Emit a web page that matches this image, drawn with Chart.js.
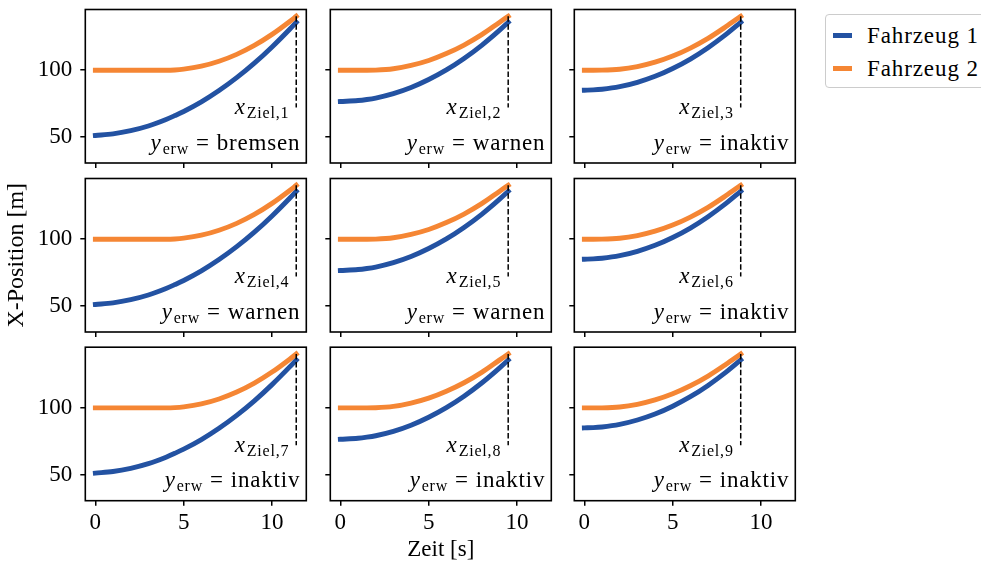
<!DOCTYPE html>
<html>
<head>
<meta charset="utf-8">
<script src="https://cdn.jsdelivr.net/npm/chart.js@4.4.1/dist/chart.umd.min.js"></script>
<style>
  html, body { margin: 0; padding: 0; background: #fff; width: 981px; height: 569px; overflow: hidden; position: relative; }
  canvas { position: absolute; }
  #legend { position: absolute; left: 825px; top: 14px; width: 200px; height: 74px; box-sizing: border-box;
            border: 1px solid #cccccc; border-radius: 4px; background: #fff;
            font-family: 'Liberation Serif', serif; font-size: 23px; color: #000; letter-spacing: 0.9px; }
  .sw { position: absolute; left: 7px; width: 19px; height: 5px; }
  .lab { position: absolute; left: 41px; white-space: nowrap; line-height: 26px; }
</style>
</head>
<body>
<div id="legend"></div>
<script>
// Time samples [s] and positions [m] for the three scenarios (one per column)
const TIME_A = [0, 1, 2, 3, 4, 4.5, 5, 6, 7, 8, 9, 10, 11, 11.37];
const FZ1_A  = [51, 52.2, 54.6, 58.1, 63.0, 65.9, 69.0, 76.2, 84.7, 94.4, 105.3, 117.5, 130.8, 136.0];
const FZ2_A  = [100, 100, 100, 100, 100, 100.2, 100.8, 103.0, 106.7, 111.9, 118.6, 126.9, 136.6, 140.5];

const TIME_B = [0, 1, 1.5, 2, 3, 4, 5, 6, 7, 8, 9, 9.5];
const FZ1_B  = [76.5, 77.2, 78.0, 79.1, 82.4, 87.0, 93.0, 100.2, 108.8, 118.7, 129.9, 136.0];
const FZ2_B  = [100, 100, 100, 100.1, 101.1, 103.6, 107.3, 112.5, 118.9, 126.7, 135.9, 140.5];

const TIME_C = [0, 0.5, 1, 2, 3, 4, 5, 6, 7, 8, 8.85];
const FZ1_C  = [85, 85.2, 85.7, 87.6, 90.9, 95.4, 101.3, 108.4, 116.9, 126.7, 136.0];
const FZ2_C  = [100, 100, 100.05, 100.7, 102.7, 106.0, 110.6, 116.6, 123.9, 132.6, 140.5];

// Target marker: time of arrival per column, dashed segment from top to bottom value
const T_ZIEL      = [11.37, 9.5, 8.85];
const ZIEL_TOP    = 140.5;
const ZIEL_BOTTOM = 72;

// Warning state per panel (row-major)
const MODES = ['bremsen', 'warnen', 'inaktiv',
               'warnen',  'warnen', 'inaktiv',
               'inaktiv', 'inaktiv', 'inaktiv'];

const SERIES = ['Fahrzeug 1', 'Fahrzeug 2'];
const X_TICKS = [0, 5, 10];
const Y_TICKS = [50, 100];
const X_TITLE = 'Zeit [s]';
const Y_TITLE = 'X-Position [m]';

// ---- styling / layout ----
const COLORS = ['#2352a2', '#f58634'];
const FONT = 'Liberation Serif';
const FS = 23;
const X_MIN = -0.57, X_MAX = 11.94;
const Y_MIN = 30.3, Y_MAX = 145.6;

const BOX_LEFT = [85.3, 330.3, 574.3];
const BOX_TOP  = [9.5, 178.5, 347.2];
const BOX_W = 221, BOX_H = 153.5;
const CANVAS_W = 316, CANVAS_H = 226;
const Y_AXIS_W = 83.3;

const columns = [
  { t: TIME_A, f1: FZ1_A, f2: FZ2_A },
  { t: TIME_B, f1: FZ1_B, f2: FZ2_B },
  { t: TIME_C, f1: FZ1_C, f2: FZ2_C }
];

const zip = (t, v) => t.map((x, i) => ({ x, y: v[i] }));

// draws a run of text pieces right-aligned at (right, baseline)
function drawPieces(ctx, pieces, right, baseline) {
  let total = 0;
  ctx.letterSpacing = '0.8px';
  pieces.forEach(p => { ctx.font = p.font; p.w = ctx.measureText(p.text).width; total += p.w + (p.gap || 0); });
  let x = right - total;
  ctx.fillStyle = '#000';
  ctx.textAlign = 'left';
  ctx.textBaseline = 'alphabetic';
  pieces.forEach(p => {
    ctx.font = p.font;
    ctx.fillText(p.text, x, baseline + (p.dy || 0));
    x += p.w + (p.gap || 0);
  });
  ctx.letterSpacing = '0px';
}

const MAIN_IT = `italic ${FS}px "${FONT}"`;
const MAIN_RM = `${FS}px "${FONT}"`;
const SUB_RM  = `${Math.round(FS * 0.7)}px "${FONT}"`;

// axes frame plus the two math-style annotations of each panel
const panelDecor = {
  id: 'panelDecor',
  afterDatasetsDraw(chart, args, opts) {
    const { ctx, chartArea: a, scales } = chart;
    ctx.save();
    ctx.lineWidth = 1.6;
    ctx.strokeStyle = '#000';
    ctx.strokeRect(a.left, a.top, a.right - a.left, a.bottom - a.top);

    const xr = scales.x.getPixelForValue(opts.tZiel) - 7;
    const yb = scales.y.getPixelForValue(ZIEL_BOTTOM) + 6.5;
    drawPieces(ctx, [
      { text: 'x', font: MAIN_IT, gap: 1 },
      { text: 'Ziel,' + opts.n, font: SUB_RM, dy: 4 }
    ], xr, yb);

    drawPieces(ctx, [
      { text: 'y', font: MAIN_IT, gap: 1 },
      { text: 'erw', font: SUB_RM, dy: 4, gap: 7 },
      { text: '=', font: MAIN_RM, gap: 7 },
      { text: opts.mode, font: MAIN_RM }
    ], a.right - 6, a.bottom - 13.5);
    ctx.restore();
  }
};

for (let r = 0; r < 3; r++) {
  for (let c = 0; c < 3; c++) {
    const idx = r * 3 + c;
    const col = columns[c];
    const cv = document.createElement('canvas');
    cv.width = CANVAS_W; cv.height = CANVAS_H;
    const left = Math.round(BOX_LEFT[c] - Y_AXIS_W);
    const top = Math.floor(BOX_TOP[r]) - 9;
    cv.style.left = left + 'px';
    cv.style.top = top + 'px';
    document.body.appendChild(cv);

    const padTop = BOX_TOP[r] - top;
    const xAxisH = CANVAS_H - padTop - BOX_H;
    const yAxisW = BOX_LEFT[c] - left;
    const padRight = CANVAS_W - yAxisW - BOX_W;

    new Chart(cv, {
      type: 'line',
      data: {
        datasets: [
          { label: SERIES[0], data: zip(col.t, col.f1), borderColor: COLORS[0], borderWidth: 4.9,
            pointRadius: 0, cubicInterpolationMode: 'monotone', borderCapStyle: 'square', borderJoinStyle: 'round', order: 2 },
          { label: SERIES[1], data: zip(col.t, col.f2), borderColor: COLORS[1], borderWidth: 4.9,
            pointRadius: 0, cubicInterpolationMode: 'monotone', borderCapStyle: 'square', borderJoinStyle: 'round', order: 1 },
          { label: 'ziel', data: [{ x: T_ZIEL[c], y: ZIEL_TOP }, { x: T_ZIEL[c], y: ZIEL_BOTTOM }],
            borderColor: '#000', borderWidth: 1.5, borderDash: [5.5, 2.4], pointRadius: 0, order: 0 }
        ]
      },
      options: {
        responsive: false,
        animation: false,
        events: [],
        layout: { padding: { left: 0, top: padTop, right: padRight, bottom: 0 } },
        plugins: {
          legend: { display: false },
          tooltip: { enabled: false },
          panelDecor: { tZiel: T_ZIEL[c], n: idx + 1, mode: MODES[idx] }
        },
        scales: {
          x: {
            type: 'linear', min: X_MIN, max: X_MAX,
            afterBuildTicks: s => { s.ticks = X_TICKS.map(v => ({ value: v })); },
            afterFit: s => { s.height = xAxisH; s.paddingLeft = 0; s.paddingRight = 0; },
            grid: { display: true, drawOnChartArea: false, drawTicks: true, tickLength: 5, lineWidth: 1.5, color: '#000' },
            border: { display: false },
            ticks: { color: r === 2 ? '#000' : 'rgba(0,0,0,0)', font: { family: FONT, size: FS }, padding: 3,
                     maxRotation: 0, autoSkip: false },
            title: { display: r === 2 && c === 1, text: X_TITLE, color: '#000',
                     font: { family: FONT, size: FS }, padding: 0 }
          },
          y: {
            type: 'linear', min: Y_MIN, max: Y_MAX,
            afterBuildTicks: s => { s.ticks = Y_TICKS.map(v => ({ value: v })); },
            afterFit: s => { s.width = yAxisW; s.paddingTop = 0; s.paddingBottom = 0; },
            grid: { display: true, drawOnChartArea: false, drawTicks: true, tickLength: 5, lineWidth: 1.5, color: '#000' },
            border: { display: false },
            ticks: { color: c === 0 ? '#000' : 'rgba(0,0,0,0)', font: { family: FONT, size: FS }, padding: 8, autoSkip: false },
            title: { display: r === 1 && c === 0, text: Y_TITLE, color: '#000',
                     font: { family: FONT, size: 24 }, padding: 0 }
          }
        }
      },
      plugins: [panelDecor]
    });
  }
}

// shared legend
const lg = document.getElementById('legend');
SERIES.forEach((name, i) => {
  const sw = document.createElement('div');
  sw.className = 'sw';
  sw.style.top = (18 + i * 33.4) + 'px';
  sw.style.background = COLORS[i];
  lg.appendChild(sw);
  const lab = document.createElement('div');
  lab.className = 'lab';
  lab.style.top = (8 + i * 33.4) + 'px';
  lab.textContent = name;
  lg.appendChild(lab);
});
</script>
</body>
</html>
